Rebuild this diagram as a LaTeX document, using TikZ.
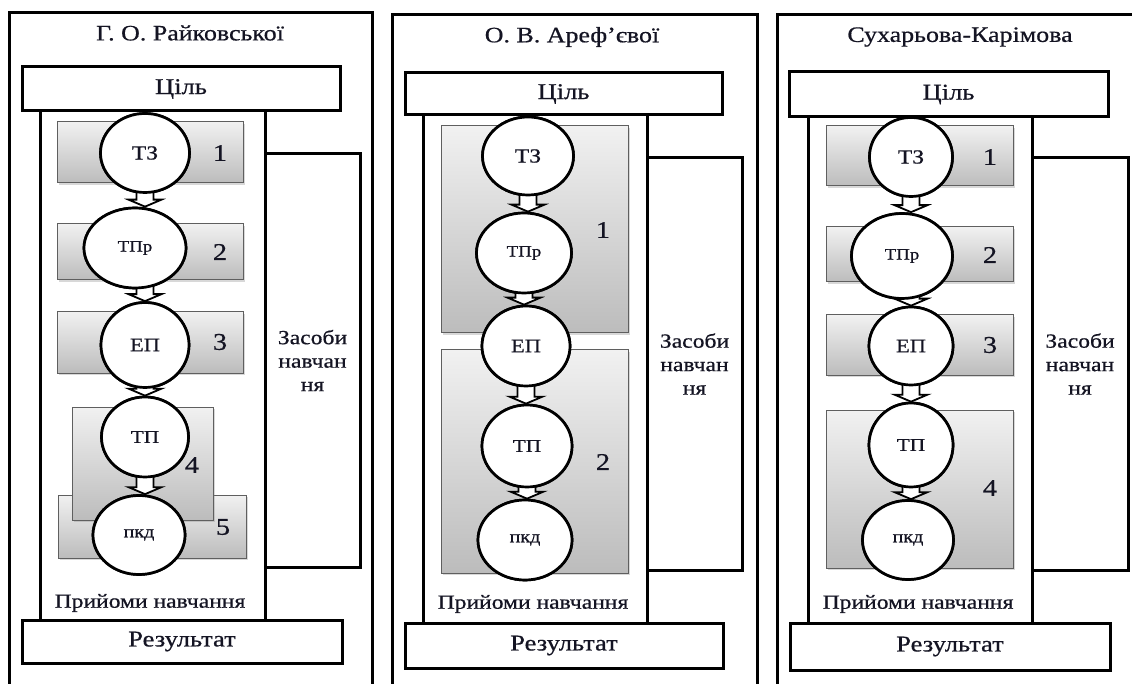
\documentclass[tikz,border=0pt]{standalone}
\usepackage{fontspec}
\setmainfont{Liberation Serif}[FakeStretch=1.18,FakeBold=0.6]
\usetikzlibrary{shapes.geometric,shadows,calc}
\definecolor{gtop}{RGB}{241,241,241}
\definecolor{gbot}{RGB}{188,188,188}
\definecolor{gedge}{RGB}{95,95,95}
\definecolor{ink}{RGB}{20,20,35}
\tikzset{
  frame/.style={draw=black, line width=3pt, fill=white, inner sep=0pt},
  bigbox/.style={draw=black, line width=3pt, fill=white, inner sep=0pt, text=ink, font=\fontsize{22.5}{22.5}\selectfont},
  sbox/.style={draw=black, line width=3pt, fill=white, inner sep=0pt, text=ink, align=center, font=\fontsize{20}{23.5}\selectfont},
  gbox/.style={draw=gedge, line width=1pt, top color=gtop, bottom color=gbot, inner sep=0pt,
    drop shadow={shadow xshift=1.5pt, shadow yshift=-2pt, opacity=0.3}},
  circ/.style={ellipse, draw=black, line width=2.7pt, fill=white, inner sep=0pt, text=ink},
  num/.style={text=ink, font=\fontsize{24}{24}\selectfont},
  ttl/.style={text=ink, font=\fontsize{22}{22}\selectfont},
  lbl/.style={text=ink, font=\fontsize{20}{20}\selectfont},
  barr/.style={draw=black, line width=1.8pt, fill=white, line join=miter},
  fz/.style={font=\fontsize{20}{20}\selectfont},
  fpr/.style={font=\fontsize{16}{16}\selectfont},
  fep/.style={font=\fontsize{19}{19}\selectfont},
  ftp/.style={font=\fontsize{18}{18}\selectfont},
  fpk/.style={font=\fontsize{17}{17}\selectfont},
}
\newcommand\cbox[7][]{\node[#1, minimum width={#5-#3}, minimum height={#6-#4}] (#2) at ({(#3+#5)/2},{(#4+#6)/2}) {#7};}
\newcommand\barrow[2]{\draw[barr] let \p1=(#1.south), \p2=(#2.north) in
  (\x1-8.5pt,\y1+8pt) -- (\x1-8.5pt,\y2+7pt) -- (\x1-16.5pt,\y2+7pt) -- (\x1,\y2) --
  (\x1+16.5pt,\y2+7pt) -- (\x1+8.5pt,\y2+7pt) -- (\x1+8.5pt,\y1+8pt);}
\newcommand\barrowx[3]{\draw[barr] let \p1=(#1.south), \p2=(#2.north), \p3=(#3.south) in
  (\x1-8.5pt,\y3+8pt) -- (\x1-8.5pt,\y2+7pt) -- (\x1-16.5pt,\y2+7pt) -- (\x1,\y2) --
  (\x1+16.5pt,\y2+7pt) -- (\x1+8.5pt,\y2+7pt) -- (\x1+8.5pt,\y3+8pt);}
\begin{document}
\begin{tikzpicture}[x=1pt,y=-1pt]
\useasboundingbox (0,0) rectangle (1132,684);
% ---------------- panel 1 ----------------
\cbox[frame]{f1}{9}{13}{372}{720}{}
\cbox[frame]{in1}{40}{111}{265}{620}{}
\cbox[sbox]{zs1}{265}{154}{360}{567}{Засоби\\навчан\\ня}
\cbox[bigbox]{c1}{22}{67}{340}{111}{Ціль}
\cbox[bigbox]{r1}{22}{620}{342}{663}{Результат}
\node[ttl] (t1) at (190,33) {Г. О. Райковської};
\node[lbl] (p1) at (150,603) {Прийоми навчання};
\cbox[gbox]{a1}{57}{122}{243}{183}{}
\cbox[gbox]{a2}{57}{224}{243}{280}{}
\cbox[gbox]{a3}{57}{312}{243}{373}{}
\cbox[gbox]{a5}{58}{495}{246}{558}{}
\cbox[gbox]{a4}{72}{407}{213}{520}{}
\path (145,153) coordinate (v1) (135,248) coordinate (v2) (145,345) coordinate (v3)
      (145,437) coordinate (v4) (139,535) coordinate (v5);
\node[circ, minimum width=89, minimum height=79] (k1) at (v1) {};
\node[circ, minimum width=102, minimum height=80] (k2) at (v2) {};
\node[circ, minimum width=88, minimum height=85] (k3) at (v3) {};
\node[circ, minimum width=87, minimum height=80] (k4) at (v4) {};
\node[circ, minimum width=92, minimum height=79] (k5) at (v5) {};
\barrow{k1}{k2}
\barrowx{k1}{k3}{k2}
\barrow{k3}{k4}
\barrow{k4}{k5}
\node[circ, fz, minimum width=89, minimum height=79] at (v1) {ТЗ};
\node[circ, fpr, minimum width=102, minimum height=80] at (v2) {ТПр};
\node[circ, fep, minimum width=88, minimum height=85] at (v3) {ЕП};
\node[circ, ftp, minimum width=87, minimum height=80] at (v4) {ТП};
\node[circ, fpk, minimum width=92, minimum height=79] at (v5) {пкд};
\node[num] (n11) at (220,153) {1};
\node[num] (n12) at (220,252) {2};
\node[num] (n13) at (220,342) {3};
\node[num] (n14) at (192,465) {4};
\node[num] (n15) at (223,527) {5};
% ---------------- panel 2 ----------------
\cbox[frame]{f2}{392}{15}{757}{720}{}
\cbox[frame]{in2}{423}{115}{647}{623}{}
\cbox[sbox]{zs2}{647}{158}{742}{570}{Засоби\\навчан\\ня}
\cbox[bigbox]{c2}{405}{73}{722}{115}{Ціль}
\cbox[bigbox]{r2}{405}{623}{723}{668}{Результат}
\node[ttl] (t2) at (572,37) {О. В. Ареф’євої};
\node[lbl] (p2) at (533,604) {Прийоми навчання};
\cbox[gbox]{b1}{441}{126}{628}{333}{}
\cbox[gbox]{b2}{441}{350}{628}{573}{}
\path (528,156) coordinate (m1) (524,253) coordinate (m2) (526,346) coordinate (m3)
      (527,446) coordinate (m4) (525,540) coordinate (m5);
\node[circ, minimum width=91, minimum height=78] (q1) at (m1) {};
\node[circ, minimum width=95, minimum height=80] (q2) at (m2) {};
\node[circ, minimum width=88, minimum height=80] (q3) at (m3) {};
\node[circ, minimum width=90, minimum height=82] (q4) at (m4) {};
\node[circ, minimum width=94, minimum height=80] (q5) at (m5) {};
\barrow{q1}{q2}
\barrow{q2}{q3}
\barrow{q3}{q4}
\barrow{q4}{q5}
\node[circ, fz, minimum width=91, minimum height=78] at (m1) {ТЗ};
\node[circ, fpr, minimum width=95, minimum height=80] at (m2) {ТПр};
\node[circ, fep, minimum width=88, minimum height=80] at (m3) {ЕП};
\node[circ, ftp, minimum width=90, minimum height=82] at (m4) {ТП};
\node[circ, fpk, minimum width=94, minimum height=80] at (m5) {пкд};
\node[num] (n21) at (603,230) {1};
\node[num] (n22) at (603,462) {2};
% ---------------- panel 3 ----------------
\cbox[frame]{f3}{777}{15}{1142}{720}{}
\cbox[frame]{in3}{808}{117}{1032}{623}{}
\cbox[sbox]{zs3}{1032}{158}{1128}{570}{Засоби\\навчан\\ня}
\cbox[bigbox]{c3}{789}{72}{1108}{117}{Ціль}
\cbox[bigbox]{r3}{790}{623}{1110}{670}{Результат}
\node[ttl] (t3) at (960,37) {Сухарьова-Карімова};
\node[lbl] (p3) at (918,604) {Прийоми навчання};
\cbox[gbox]{d1}{826}{126}{1013}{186}{}
\cbox[gbox]{d2}{826}{227}{1013}{282}{}
\cbox[gbox]{d3}{826}{315}{1013}{375}{}
\cbox[gbox]{d4}{826}{410}{1013}{568}{}
\path (911,157) coordinate (w1) (902,256) coordinate (w2) (911,346) coordinate (w3)
      (911,445) coordinate (w4) (908,540) coordinate (w5);
\node[circ, minimum width=83, minimum height=79] (s1) at (w1) {};
\node[circ, minimum width=101, minimum height=85] (s2) at (w2) {};
\node[circ, minimum width=84, minimum height=78] (s3) at (w3) {};
\node[circ, minimum width=84, minimum height=84] (s4) at (w4) {};
\node[circ, minimum width=91, minimum height=79] (s5) at (w5) {};
\barrow{s1}{s2}
\barrowx{s1}{s3}{s2}
\barrow{s3}{s4}
\barrow{s4}{s5}
\node[circ, fz, minimum width=83, minimum height=79] at (w1) {ТЗ};
\node[circ, fpr, minimum width=101, minimum height=85] at (w2) {ТПр};
\node[circ, fep, minimum width=84, minimum height=78] at (w3) {ЕП};
\node[circ, ftp, minimum width=84, minimum height=84] at (w4) {ТП};
\node[circ, fpk, minimum width=91, minimum height=79] at (w5) {пкд};
\node[num] (n31) at (990,157) {1};
\node[num] (n32) at (990,255) {2};
\node[num] (n33) at (990,345) {3};
\node[num] (n34) at (990,488) {4};
\end{tikzpicture}
\end{document}
